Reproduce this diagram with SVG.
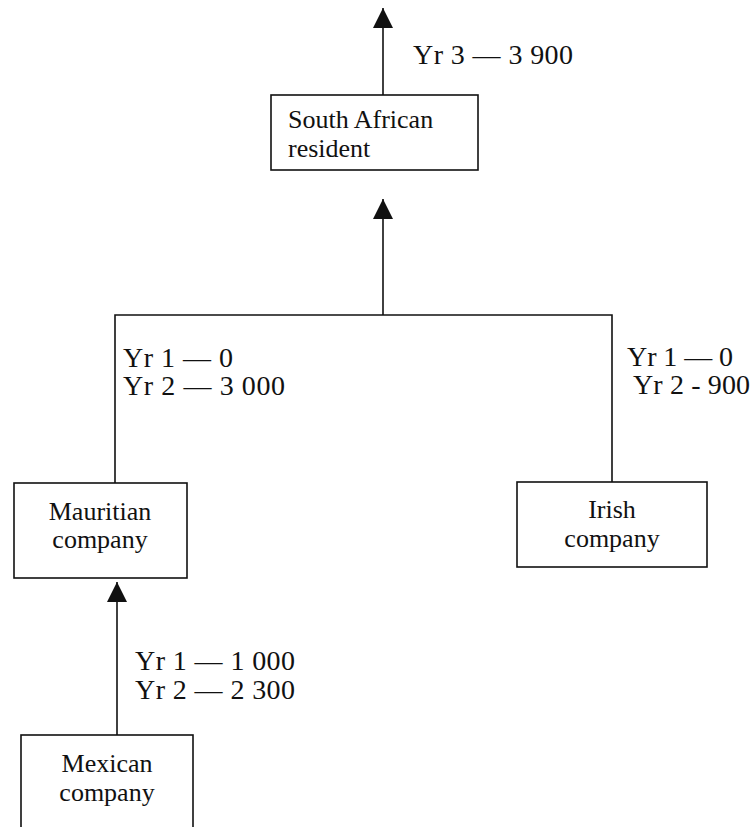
<svg xmlns="http://www.w3.org/2000/svg" width="753" height="827" viewBox="0 0 753 827">
<style>
.box{fill:#fff;stroke:#111;stroke-width:1.6}
.ln{fill:none;stroke:#111;stroke-width:1.6}
text{font-family:"Liberation Serif","Times New Roman",serif;font-size:26px;fill:#111}
.e{font-size:28px}
.c{text-anchor:middle}
</style>
<defs>
<marker id="ah" viewBox="0 0 20 20" refX="20" refY="10" markerWidth="20" markerHeight="20" markerUnits="userSpaceOnUse" orient="auto">
<path d="M0,0 L20,10 L0,20 Z" fill="#111"/>
</marker>
</defs>
<rect width="753" height="827" fill="#fff"/>
<g id="connectors">
<line class="ln" x1="383" y1="95" x2="383" y2="8" marker-end="url(#ah)"/>
<polyline class="ln" points="115,483 115,315 612,315 612,482"/>
<line class="ln" x1="383" y1="315" x2="383" y2="199" marker-end="url(#ah)"/>
<line class="ln" x1="117" y1="735" x2="117" y2="582" marker-end="url(#ah)"/>
<text class="e" x="413" y="64" textLength="160" lengthAdjust="spacing">Yr 3 — 3 900</text>
<text class="e" x="123" y="367" textLength="110" lengthAdjust="spacing">Yr 1 — 0</text>
<text class="e" x="123" y="395" textLength="162" lengthAdjust="spacing">Yr 2 — 3 000</text>
<text class="e" x="627" y="366" textLength="106" lengthAdjust="spacing">Yr 1 — 0</text>
<text class="e" x="633" y="394" textLength="117" lengthAdjust="spacing">Yr 2 - 900</text>
<text class="e" x="135" y="670" textLength="160" lengthAdjust="spacing">Yr 1 — 1 000</text>
<text class="e" x="135" y="699" textLength="160" lengthAdjust="spacing">Yr 2 — 2 300</text>
</g>
<g id="south-african">
<rect class="box" x="271" y="95" width="207" height="75"/>
<text x="288" y="128">South African</text>
<text x="288" y="157">resident</text>
</g>
<g id="mauritian">
<rect class="box" x="14" y="483" width="173" height="95"/>
<text class="c" x="100" y="520">Mauritian</text>
<text class="c" x="100" y="548">company</text>
</g>
<g id="irish">
<rect class="box" x="517" y="482" width="190" height="85"/>
<text class="c" x="612" y="518">Irish</text>
<text class="c" x="612" y="547">company</text>
</g>
<g id="mexican">
<rect class="box" x="21" y="735" width="172" height="100"/>
<text class="c" x="107" y="772">Mexican</text>
<text class="c" x="107" y="801">company</text>
</g>
</svg>
